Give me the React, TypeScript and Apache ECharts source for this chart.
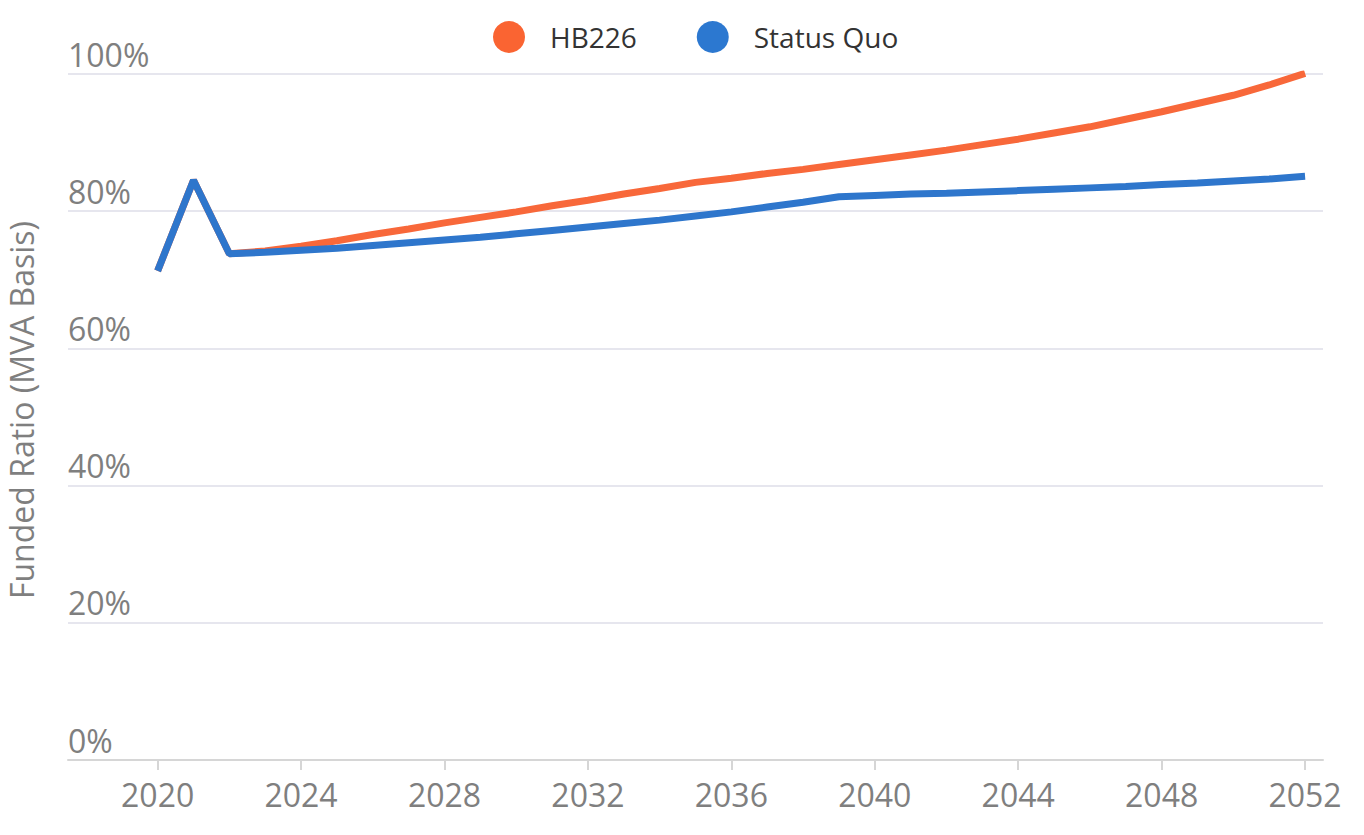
import React, { useEffect, useRef } from "react";
import * as echarts from "echarts";

const years: number[] = [];
for (let y = 2020; y <= 2052; y++) years.push(y);

const hb226: number[] = [
  71.3, 84.5, 73.8, 74.2, 74.9, 75.7, 76.6, 77.4, 78.3, 79.1, 79.9, 80.8, 81.6, 82.5, 83.3, 84.2,
  84.8, 85.5, 86.1, 86.8, 87.5, 88.2, 88.9, 89.7, 90.5, 91.4, 92.3, 93.4, 94.5, 95.7, 96.9, 98.4, 100.1,
];

const statusQuo: number[] = [
  71.3, 84.5, 73.8, 74.0, 74.3, 74.6, 75.0, 75.4, 75.8, 76.2, 76.7, 77.2, 77.7, 78.2, 78.7, 79.3,
  79.9, 80.6, 81.3, 82.1, 82.3, 82.5, 82.6, 82.8, 83.0, 83.2, 83.4, 83.6, 83.9, 84.1, 84.4, 84.7, 85.1,
];

const xTicks: number[] = [2020, 2024, 2028, 2032, 2036, 2040, 2044, 2048, 2052];

const FONT = "'Open Sans', 'Noto Sans', sans-serif";

export default function App() {
  const ref = useRef<HTMLDivElement>(null);
  useEffect(() => {
    if (!ref.current) return;
    const chart = echarts.init(ref.current, undefined, { renderer: "svg" });
    chart.setOption({
      animation: false,
      backgroundColor: "#ffffff",
      legend: {
        top: 16,
        left: 488,
        icon: "circle",
        itemWidth: 32,
        itemHeight: 32,
        itemGap: 60,
        textStyle: {
          fontFamily: FONT,
          fontSize: 28,
          color: "#333333",
          padding: [0, 0, 0, 20],
        },
        data: ["HB226", "Status Quo"],
      },
      grid: {
        left: 68,
        right: 41,
        top: 74,
        bottom: 75,
        containLabel: false,
        outerBoundsMode: "none",
      },
      xAxis: {
        type: "value",
        min: 2017.5,
        max: 2052.5,
        axisLine: { show: true, lineStyle: { color: "#d6d6d6", width: 2 } },
        axisTick: {
          show: true,
          length: 10,
          customValues: xTicks,
          lineStyle: { color: "#d6d6d6", width: 2 },
        },
        axisLabel: {
          customValues: xTicks,
          margin: 18,
          fontFamily: FONT,
          fontSize: 32,
          color: "#7f7f7f",
          formatter: (v: number) => String(v),
        },
        splitLine: { show: false },
      },
      yAxis: {
        type: "value",
        min: 0,
        max: 100,
        interval: 20,
        name: "Funded Ratio (MVA Basis)",
        nameLocation: "middle",
        nameGap: 31,
        nameTextStyle: {
          fontFamily: FONT,
          fontSize: 32,
          color: "#7f7f7f",
          padding: [0, 0, 0, 14],
        },
        axisLine: { show: false },
        axisTick: { show: false },
        axisLabel: {
          inside: true,
          margin: 0,
          align: "left",
          verticalAlign: "bottom",
          padding: [0, 0, 4, 0],
          fontFamily: FONT,
          fontSize: 32,
          color: "#7f7f7f",
          formatter: "{value}%",
        },
        splitLine: { show: true, lineStyle: { color: "#e6e6ee", width: 2 } },
      },
      series: [
        {
          name: "HB226",
          type: "line",
          data: years.map((y, i) => [y, hb226[i]]),
          showSymbol: false,
          symbol: "circle",
          itemStyle: { color: "#fa6432" },
          lineStyle: { color: "#f8683a", width: 7 },
        },
        {
          name: "Status Quo",
          type: "line",
          data: years.map((y, i) => [y, statusQuo[i]]),
          showSymbol: false,
          symbol: "circle",
          itemStyle: { color: "#2c78d0" },
          lineStyle: { color: "#2e76cc", width: 7 },
        },
      ],
    });
    return () => chart.dispose();
  }, []);
  return (
    <div
      ref={ref}
      style={{ position: "fixed", left: 0, top: 0, width: 1364, height: 835 }}
    />
  );
}
